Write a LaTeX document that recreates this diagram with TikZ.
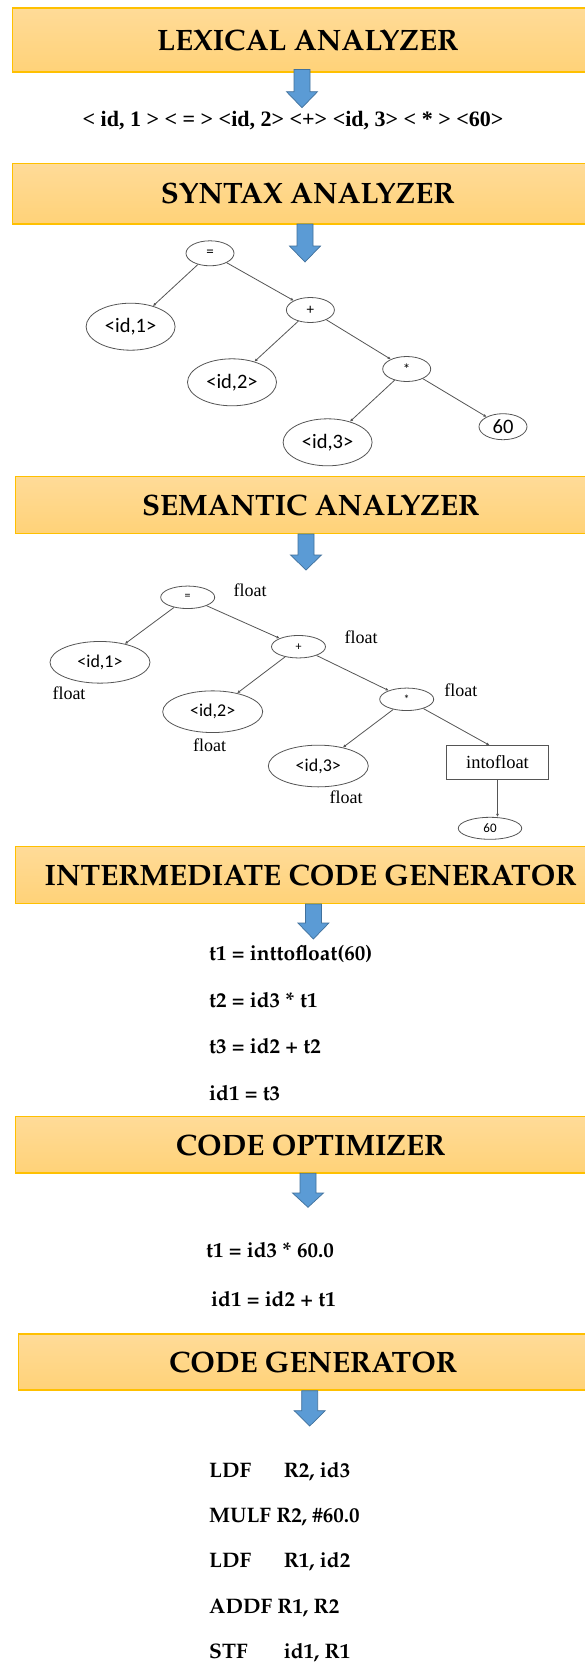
\documentclass[tikz,border=0pt]{standalone}
\usepackage[T1,TU]{fontenc}
\usepackage{fontspec}
\newfontfamily\treefont{Carlito}
\newfontfamily\typefont{Liberation Serif}
% bold Palatino-style face (URW Palladio, Type 1) for headings and code
\newcommand\palfont{\fontencoding{T1}\fontfamily{ppl}\fontseries{b}\fontshape{n}\selectfont}
\usetikzlibrary{arrows.meta,shapes.geometric}

\definecolor{boxedge}{RGB}{255,192,0}
\definecolor{boxtop}{RGB}{255,219,152}
\definecolor{boxbottom}{RGB}{255,210,120}
\definecolor{arrowfill}{RGB}{91,155,213}
\definecolor{arrowedge}{RGB}{65,113,156}
\definecolor{treeline}{RGB}{85,85,85}

\tikzset{
  stagebox/.style={draw=boxedge, line width=1.4pt, top color=boxtop, bottom color=boxbottom,
    anchor=north west, minimum width=590pt, inner sep=0pt, text height=20.3pt, text depth=0pt,
    font=\palfont\fontsize{29.5}{34}\selectfont},
  blockarrow/.style={fill=arrowfill, draw=arrowedge, line width=0.7pt, line join=miter},
  tokens/.style={inner sep=0pt, text height=14.6pt, text depth=0pt,
    font=\typefont\bfseries\fontsize{22}{26}\selectfont},
  codeline/.style={anchor=west, inner sep=0pt, text height=14.5pt, text depth=0pt,
    font=\palfont\fontsize{21}{25}\selectfont},
  synop/.style={ellipse, draw=treeline, line width=0.8pt, inner sep=0pt,
    minimum width=48pt, minimum height=25pt, font=\treefont\fontsize{15}{18}\selectfont},
  synleaf/.style={ellipse, draw=treeline, line width=0.8pt, inner sep=0pt,
    minimum width=89pt, minimum height=47pt, font=\treefont\fontsize{20.5}{24}\selectfont},
  semop/.style={ellipse, draw=treeline, line width=0.8pt, inner sep=0pt,
    minimum width=54pt, minimum height=22.5pt, font=\treefont\fontsize{12}{14}\selectfont},
  semleaf/.style={ellipse, draw=treeline, line width=0.8pt, inner sep=0pt,
    minimum width=100pt, minimum height=41.7pt, font=\treefont\fontsize{18}{21}\selectfont},
  semrect/.style={rectangle, draw=treeline, line width=0.8pt, inner sep=0pt,
    minimum width=102pt, minimum height=33.3pt, font=\typefont\fontsize{18.5}{22}\selectfont},
  typelabel/.style={inner sep=0pt, font=\typefont\fontsize{18}{21}\selectfont},
  edge/.style={draw=treeline, line width=0.8pt, -{Latex[length=3pt,width=3pt]}},
}

% downward block arrow: centre x, top y, y where the head starts, tip y
\newcommand\flowarrow[4]{%
  \draw[blockarrow] (#1-8,#2) -- (#1+8,#2) -- (#1+8,#3) -- (#1+15.5,#3)
    -- (#1,#4) -- (#1-15.5,#3) -- (#1-8,#3) -- cycle;}

\begin{document}
\begin{tikzpicture}[x=1pt,y=-1pt]
\useasboundingbox[fill=white] (0,0) rectangle (585,1679);

% ---------- lexical analysis ----------
\node[stagebox, minimum height=64pt] (lex) at (12,7.3) {LEXICAL ANALYZER};
\flowarrow{302}{69.5}{91.7}{107.7}
\node[tokens] (toks) at (293,119) {< id, 1 > < = > <id, 2> <+> <id, 3> < * > <60>};

% ---------- syntax analysis ----------
\node[stagebox, minimum height=60.6pt] (syn) at (12,162.7) {SYNTAX ANALYZER};
\flowarrow{305}{224}{246}{262}

\node[synop]   (s-eq)   at (210,253.3)   {=};
\node[synleaf] (s-id1)  at (130.6,326.7) {<id,1>};
\node[synop]   (s-plus) at (310.4,310)   {+};
\node[synleaf] (s-id2)  at (232,382.3)   {<id,2>};
\node[synop]   (s-mul)  at (406.7,369)   {*};
\node[synleaf] (s-id3)  at (327.6,442.3) {<id,3>};
\node[synop, font=\treefont\fontsize{20.5}{24}\selectfont, minimum height=26pt]
               (s-60)   at (503,426.7)   {60};
\draw[edge] (s-eq) -- (s-id1);
\draw[edge] (s-eq) -- (s-plus);
\draw[edge] (s-plus) -- (s-id2);
\draw[edge] (s-plus) -- (s-mul);
\draw[edge] (s-mul) -- (s-id3);
\draw[edge] (s-mul) -- (s-60);

% ---------- semantic analysis ----------
\node[stagebox, minimum height=56.7pt] (sem) at (15,476) {SEMANTIC ANALYZER};
\flowarrow{306}{534}{555}{570}

\node[semop]   (m-eq)   at (187.7,597.3) {=};
\node[semleaf] (m-id1)  at (100,662.3)   {<id,1>};
\node[semop]   (m-plus) at (298.5,646.7) {+};
\node[semleaf] (m-id2)  at (212.7,711.7) {<id,2>};
\node[semop]   (m-mul)  at (406.7,699.3) {*};
\node[semleaf] (m-id3)  at (318.3,766)   {<id,3>};
\node[semrect] (m-conv) at (497.5,762.3) {intofloat};
\node[semop, minimum width=63.5pt, minimum height=22pt, font=\treefont\fontsize{13}{15}\selectfont]
               (m-60)   at (490,828.3)   {60};
\draw[edge] (m-eq) -- (m-id1);
\draw[edge] (m-eq) -- (m-plus);
\draw[edge] (m-plus) -- (m-id2);
\draw[edge] (m-plus) -- (m-mul);
\draw[edge] (m-mul) -- (m-id3);
\draw[edge] (m-mul) -- ([xshift=-8pt]m-conv.north);
\draw[edge] (m-conv.south) -- (m-conv.south |- m-60.north);

\node[typelabel] (f-eq)   at (250,590.7)   {float};
\node[typelabel] (f-id1)  at (69,693.3)    {float};
\node[typelabel] (f-plus) at (361,637.3)   {float};
\node[typelabel] (f-id2)  at (209.7,745)   {float};
\node[typelabel] (f-mul)  at (460.8,690)   {float};
\node[typelabel] (f-id3)  at (346,797.3)   {float};

% ---------- intermediate code ----------
\node[stagebox, minimum height=56.7pt] (icg) at (15,846) {INTERMEDIATE CODE GENERATOR};
\flowarrow{313.4}{904}{923}{939}
\node[codeline] (i1) at (209,953.3)  {t1 = inttofloat(60)};
\node[codeline] (i2) at (209,1000)   {t2 = id3 * t1};
\node[codeline] (i3) at (209,1046.7) {t3 = id2 + t2};
\node[codeline] (i4) at (209,1093.3) {id1 = t3};

% ---------- optimisation ----------
\node[stagebox, minimum height=56.3pt] (opt) at (15,1116) {CODE OPTIMIZER};
\flowarrow{308}{1173.3}{1193}{1207.3}
\node[codeline] (o1) at (206,1250)   {t1 = id3 * 60.0};
\node[codeline] (o2) at (211,1299.3) {id1 = id2 + t1};

% ---------- code generation ----------
\node[stagebox, minimum height=56pt] (gen) at (17.5,1333.3) {CODE GENERATOR};
\flowarrow{309.7}{1390.7}{1410.7}{1426}
\node[codeline] (g1) at (209,1470)   {\makebox[74.6pt][l]{LDF}R2, id3};
\node[codeline] (g2) at (209,1515)   {MULF R2, \#60.0};
\node[codeline] (g3) at (209,1560.7) {\makebox[74.6pt][l]{LDF}R1, id2};
\node[codeline] (g4) at (209,1606)   {ADDF R1, R2};
\node[codeline] (g5) at (209,1651.7) {\makebox[74.6pt][l]{STF}id1, R1};
\end{tikzpicture}
\end{document}
